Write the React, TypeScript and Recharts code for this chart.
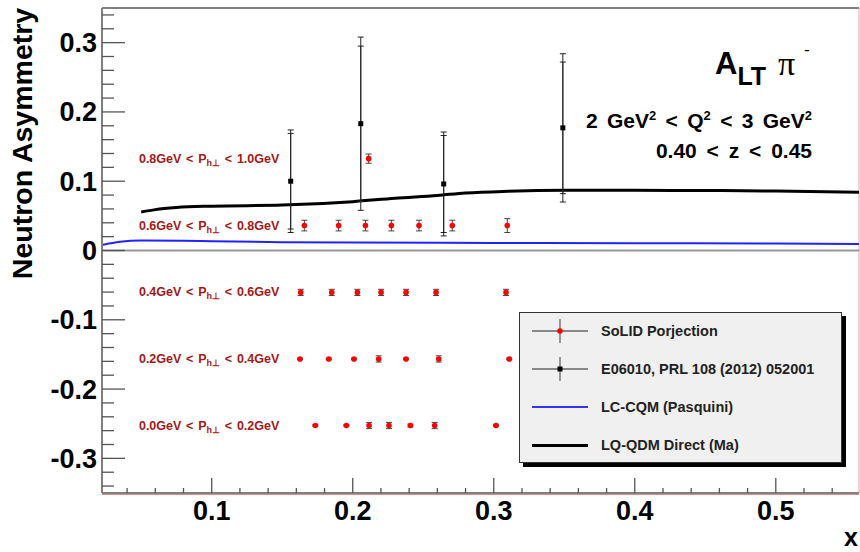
import React from "react";
import {
  ComposedChart,
  XAxis,
  YAxis,
  Line,
  Scatter,
  ErrorBar,
  ReferenceLine,
  ReferenceDot,
  Legend,
} from "recharts";

const FONT = '"Liberation Sans", Arial, Helvetica, sans-serif';
const LABEL_RED = "#a31818";
const TICK_COLOR = "#555";
const FRAME_COLOR = "#808080";

// axis ranges and major tick labels
const X_DOMAIN = [0.0222, 0.559];
const Y_DOMAIN = [-0.35, 0.35];
const xMajor = [0.1, 0.2, 0.3, 0.4, 0.5];
const xMajorLabels = ["0.1", "0.2", "0.3", "0.4", "0.5"];
const yMajor = [-0.3, -0.2, -0.1, 0, 0.1, 0.2, 0.3];
const yMajorLabels = ["-0.3", "-0.2", "-0.1", "0", "0.1", "0.2", "0.3"];

// LQ-QDM Direct (Ma)
const lqX = [0.05, 0.06, 0.075, 0.1, 0.15, 0.2, 0.23, 0.26, 0.28, 0.31, 0.35, 0.4, 0.45, 0.5, 0.559];
const lqY = [0.0555, 0.059, 0.062, 0.064, 0.0655, 0.0705, 0.0755, 0.0795, 0.083, 0.0855, 0.0868, 0.0868, 0.0866, 0.0858, 0.084];

// LC-CQM (Pasquini)
const lcX = [0.0222, 0.035, 0.05, 0.08, 0.1, 0.15, 0.2, 0.3, 0.4, 0.5, 0.559];
const lcY = [0.008, 0.0125, 0.0143, 0.014, 0.0133, 0.012, 0.0115, 0.011, 0.0105, 0.01, 0.0095];

// E06010, PRL 108 (2012) 052001
const e06X = [0.156, 0.2057, 0.2645, 0.349];
const e06Y = [0.1, 0.183, 0.096, 0.177];
const e06Tot = [0.074, 0.125, 0.075, 0.107];
const e06Stat = [0.069, 0.112, 0.07, 0.095];

// SoLID projection, one row per P_h bin
const rowLo = ["0.8GeV", "0.6GeV", "0.4GeV", "0.2GeV", "0.0GeV"];
const rowHi = ["1.0GeV", "0.8GeV", "0.6GeV", "0.4GeV", "0.2GeV"];
const rowY = [0.1326, 0.036, -0.0605, -0.1565, -0.2526];
const rowX = [
  [0.2113],
  [0.1657, 0.19, 0.209, 0.2274, 0.247, 0.2706, 0.3096],
  [0.1631, 0.1851, 0.2033, 0.2201, 0.2378, 0.2591, 0.3087],
  [0.1626, 0.183, 0.2009, 0.2184, 0.2378, 0.261, 0.311],
  [0.1735, 0.1955, 0.2116, 0.2257, 0.2409, 0.2581, 0.3016],
];
const rowErr = [
  [0.0067],
  [0.0077, 0.0077, 0.0077, 0.0077, 0.0077, 0.0077, 0.01],
  [0.0045, 0.0045, 0.0045, 0.0045, 0.0045, 0.0045, 0.0045],
  [0.001, 0.001, 0.001, 0.0045, 0.001, 0.0045, 0.001],
  [0.001, 0.001, 0.0045, 0.0045, 0.002, 0.0045, 0.001],
];
const ROW_LABEL_X = 0.0484;

const lqData = lqX.map((x, i) => ({ x, y: lqY[i] }));
const lcData = lcX.map((x, i) => ({ x, y: lcY[i] }));
const e06Data = e06X.map((x, i) => ({ x, y: e06Y[i], tot: e06Tot[i], stat: e06Stat[i] }));
const solidData = rowX.flatMap((xs, r) =>
  xs.map((x, i) => ({ x, y: rowY[r], err: rowErr[r][i] }))
);

// major + minor ticks (0.02 steps)
const xTicks: number[] = [];
for (let i = 2; i <= 27; i++) xTicks.push(Math.round(i * 2) / 100);
const yTicks: number[] = [];
for (let i = -17; i <= 17; i++) yTicks.push(Math.round(i * 2) / 100);

const isMajor = (list: number[], v: number) => list.findIndex((m) => Math.abs(m - v) < 1e-6);

function YTick(props: any) {
  const { x, y, payload } = props;
  const idx = isMajor(yMajor, payload.value);
  return (
    <g>
      <line x1={x} x2={x + (idx >= 0 ? 23 : 12)} y1={y} y2={y} stroke={TICK_COLOR} strokeWidth={1.3} />
      {idx >= 0 && (
        <text x={x - 5} y={y + 9.5} textAnchor="end" fontFamily={FONT} fontWeight="bold" fontSize={27} fill="#000">
          {yMajorLabels[idx]}
        </text>
      )}
    </g>
  );
}

function XTick(props: any) {
  const { x, y, payload } = props;
  const idx = isMajor(xMajor, payload.value);
  return (
    <g>
      <line x1={x} x2={x} y1={y} y2={y - (idx >= 0 ? 15 : 5)} stroke={TICK_COLOR} strokeWidth={1.3} />
      {idx >= 0 && (
        <text x={x} y={y + 27} textAnchor="middle" fontFamily={FONT} fontWeight="bold" fontSize={27} fill="#000">
          {xMajorLabels[idx]}
        </text>
      )}
    </g>
  );
}

function RowLabel({ viewBox, lo, hi }: any) {
  return (
    <text x={viewBox.x} y={viewBox.y + 4} fontFamily={FONT} fontWeight="bold" fontSize={12.5} fill={LABEL_RED} wordSpacing={1.3}>
      {lo} &lt; P
      <tspan fontSize={9} dy={3}>h⊥</tspan>
      <tspan dy={-3}> &lt; {hi}</tspan>
    </text>
  );
}

function LegendMarker({ dot, square }: { dot: string; square?: boolean }) {
  return (
    <svg width={56} height={26} style={{ position: "absolute", left: 12, top: -13 }}>
      <line x1={0} x2={56} y1={13} y2={13} stroke="#666" strokeWidth={1.3} />
      <line x1={28} x2={28} y1={1} y2={25} stroke="#666" strokeWidth={1.3} />
      {square ? <rect x={25.5} y={10.5} width={5} height={5} fill={dot} /> : <circle cx={28} cy={13} r={2.8} fill={dot} />}
    </svg>
  );
}

function LegendBox() {
  const rows: { top: number; label: string; mark: React.ReactNode }[] = [
    { top: 18, label: "SoLID Porjection", mark: <LegendMarker dot="#ff0000" /> },
    { top: 56, label: "E06010, PRL 108 (2012) 052001", mark: <LegendMarker dot="#000" square /> },
    {
      top: 94,
      label: "LC-CQM (Pasquini)",
      mark: <div style={{ position: "absolute", left: 12, top: -1, width: 56, height: 2, background: "#3333ff" }} />,
    },
    {
      top: 132,
      label: "LQ-QDM Direct (Ma)",
      mark: <div style={{ position: "absolute", left: 12, top: -1.5, width: 56, height: 3, background: "#000" }} />,
    },
  ];
  return (
    <div
      style={{
        position: "relative",
        width: 323,
        height: 151,
        boxSizing: "border-box",
        background: "#f0f0f0",
        border: "1px solid #333",
        boxShadow: "4px 4px 0 #000",
        fontFamily: FONT,
      }}
    >
      {rows.map((r) => (
        <div key={r.label} style={{ position: "absolute", left: 0, top: r.top, width: "100%" }}>
          {r.mark}
          <span
            style={{
              position: "absolute",
              left: 81,
              top: -10,
              fontSize: 14.5,
              fontWeight: "bold",
              color: "#222",
              whiteSpace: "nowrap",
              lineHeight: "20px",
            }}
          >
            {r.label}
          </span>
        </div>
      ))}
    </div>
  );
}

export default function App() {
  return (
    <div style={{ position: "absolute", left: 0, top: 0, width: 860, height: 552, background: "#fff" }}>
      <ComposedChart width={860} height={552} margin={{ top: 8, right: 1, bottom: 0, left: 0 }}>
        <XAxis
          type="number"
          dataKey="x"
          domain={X_DOMAIN}
          allowDataOverflow
          ticks={xTicks}
          interval={0}
          height={59}
          tickSize={0}
          tickMargin={0}
          tick={<XTick />}
          axisLine={{ stroke: FRAME_COLOR, strokeWidth: 2 }}
        />
        <YAxis
          type="number"
          dataKey="y"
          domain={Y_DOMAIN}
          allowDataOverflow
          ticks={yTicks}
          interval={0}
          width={102}
          tickSize={0}
          tickMargin={0}
          tick={<YTick />}
          axisLine={{ stroke: FRAME_COLOR, strokeWidth: 2 }}
        />
        <ReferenceLine y={0.35} stroke={FRAME_COLOR} strokeWidth={2} />
        <ReferenceLine x={0.559} stroke="#e8a0a0" strokeWidth={1} />
        <ReferenceLine y={-0.352} stroke="#d88080" strokeWidth={1} ifOverflow="visible" />
        <ReferenceLine y={0} stroke="#999" strokeWidth={2} />

        <Line data={lcData} dataKey="y" type="monotone" stroke="#2222ff" strokeWidth={2} dot={false} isAnimationActive={false} />
        <Line data={lqData} dataKey="y" type="monotone" stroke="#000" strokeWidth={3} dot={false} isAnimationActive={false} />

        <Scatter
          data={e06Data}
          isAnimationActive={false}
          shape={(p: any) => <rect x={p.cx - 2.5} y={p.cy - 2.5} width={5} height={5} fill="#000" />}
        >
          <ErrorBar dataKey="tot" direction="y" width={3} stroke="#222" strokeWidth={1} />
          <ErrorBar dataKey="stat" direction="y" width={3} stroke="#222" strokeWidth={1} />
        </Scatter>
        <Scatter
          data={solidData}
          isAnimationActive={false}
          shape={(p: any) => <circle cx={p.cx} cy={p.cy} r={2.8} fill="#ff0000" />}
        >
          <ErrorBar dataKey="err" direction="y" width={3} stroke="#444" strokeWidth={1} />
        </Scatter>

        {rowY.map((y, r) => (
          <ReferenceDot
            key={rowLo[r]}
            x={ROW_LABEL_X}
            y={y}
            r={0}
            stroke="none"
            fill="none"
            label={(props: any) => <RowLabel {...props} lo={rowLo[r]} hi={rowHi[r]} />}
          />
        ))}

        <text x={32} y={143.5} transform="rotate(-90 32 143.5)" textAnchor="middle" fontFamily={FONT} fontWeight="bold" fontSize={28.5}>
          Neutron Asymmetry
        </text>
        <text x={858} y={546} textAnchor="end" fontFamily={FONT} fontWeight="bold" fontSize={25}>
          x
        </text>

        <text x={715} y={74} fontFamily={FONT} fontWeight="bold" fontSize={31}>
          A<tspan fontSize={25} dy={11}>LT</tspan>
        </text>
        <text x={778} y={75} fontFamily='"Liberation Serif", serif' fontSize={34}>
          π
        </text>
        <text x={804} y={55} fontFamily={FONT} fontSize={17}>
          -
        </text>
        <text x={812} y={128} textAnchor="end" fontFamily={FONT} fontWeight="bold" fontSize={21} wordSpacing={3.5}>
          2 GeV<tspan fontSize={13} dy={-8}>2</tspan>
          <tspan dy={8}> &lt; Q</tspan>
          <tspan fontSize={13} dy={-8}>2</tspan>
          <tspan dy={8}> &lt; 3 GeV</tspan>
          <tspan fontSize={13} dy={-8}>2</tspan>
        </text>
        <text x={812} y={158} textAnchor="end" fontFamily={FONT} fontWeight="bold" fontSize={21} wordSpacing={4}>
          0.40 &lt; z &lt; 0.45
        </text>

        <Legend
          layout="horizontal"
          verticalAlign="middle"
          align="center"
          wrapperStyle={{ left: 519, top: 312, width: 327, height: 155 }}
          content={() => <LegendBox />}
        />
      </ComposedChart>
    </div>
  );
}
